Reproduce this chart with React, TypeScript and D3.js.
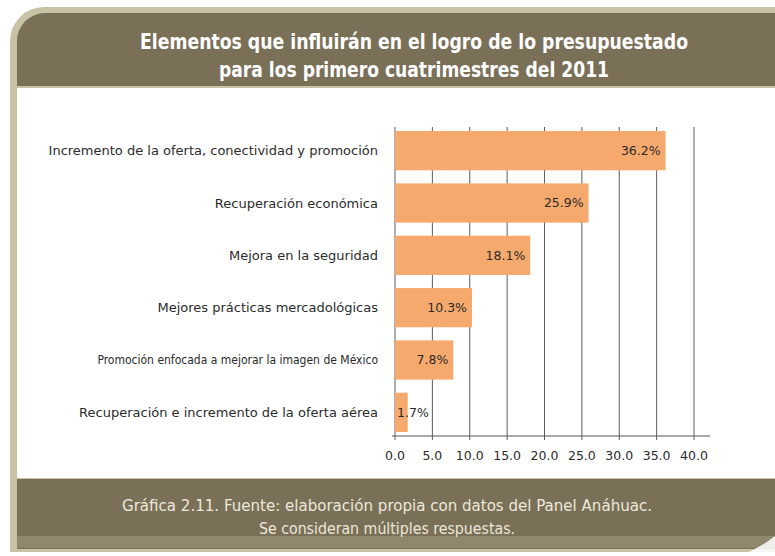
import React from "react";
import * as d3 from "d3";

const categories = [
  "Incremento de la oferta, conectividad y promoción",
  "Recuperación económica",
  "Mejora en la seguridad",
  "Mejores prácticas mercadológicas",
  "Promoción enfocada a mejorar la imagen de México",
  "Recuperación e incremento de la oferta aérea",
];
const values = [36.2, 25.9, 18.1, 10.3, 7.8, 1.7];
const tickValues = [0, 5, 10, 15, 20, 25, 30, 35, 40];
const titleLines = [
  "Elementos que influirán en el logro de lo presupuestado",
  "para los primero cuatrimestres del 2011",
];
const footerLines = [
  "Gráfica 2.11. Fuente: elaboración propia con datos del Panel Anáhuac.",
  "Se consideran múltiples respuestas.",
];

const W = 775;
const H = 556;

export default function App() {
  const x = d3.scaleLinear().domain([0, 40]).range([395, 694]);
  const y = d3
    .scaleBand<string>()
    .domain(categories)
    .range([124.5, 438.5])
    .paddingInner(0.25)
    .paddingOuter(0.125);
  const axisY = 436;
  const olive = "#7a7058";
  const frame = "#c8c2a6";

  const r = 34;
  const outerPath = `M10,${7 + r} A${r},${r} 0 0 1 ${10 + r},7 L${W},7 L${W},${H - 4} L10,${H - 4} Z`;
  const r2 = 28;
  const titlePath = `M17,${13 + r2} A${r2},${r2} 0 0 1 ${17 + r2},13 L${W},13 L${W},86 L17,86 Z`;

  return (
    <svg
      width={W}
      height={H}
      style={{ position: "absolute", left: 0, top: 0, display: "block" }}
    >
      <rect x={0} y={0} width={W} height={H} fill="#ffffff" />
      <path d={outerPath} fill={frame} />
      <path d={titlePath} fill={olive} />
      <rect x={17} y={88} width={W - 17} height={390} fill="#ffffff" />
      <rect x={17} y={479} width={W - 17} height={70} fill={olive} />
      <rect x={17} y={536} width={W - 17} height={12} fill="#8f876e" />
      <path
        d={`M740,556 Q760,548 775,536 L775,556 Z`}
        fill="#ffffff"
        opacity={0.85}
      />

      {titleLines.map((t, i) => (
        <text
          key={t}
          x={414}
          y={49 + i * 28}
          textAnchor="middle"
          fill="#ffffff"
          fontFamily="'Liberation Sans Narrow', 'DejaVu Sans Condensed', 'Liberation Sans', sans-serif"
          fontWeight="bold"
          fontSize={21}
          textLength={i === 0 ? 548 : 390}
          lengthAdjust="spacingAndGlyphs"
        >
          {t}
        </text>
      ))}

      {/* grid lines */}
      {tickValues.map((t) => (
        <line
          key={"g" + t}
          x1={x(t)}
          x2={x(t)}
          y1={127}
          y2={axisY + 4}
          stroke="#5e5e5e"
          strokeWidth={1}
        />
      ))}
      <line x1={392} x2={710} y1={axisY} y2={axisY} stroke="#555" strokeWidth={1} />

      {/* bars */}
      {categories.map((c, i) => {
        const y0 = y(c)!;
        const bw = x(values[i]) - x(0);
        const label = values[i].toFixed(1) + "%";
        const inside = bw > 40;
        return (
          <g key={c}>
            <rect
              x={x(0)}
              y={y0}
              width={bw}
              height={y.bandwidth()}
              fill="#f6a96c"
            />
            <text
              x={inside ? x(values[i]) - 5 : x(0) + 2}
              y={y0 + y.bandwidth() / 2}
              dy="0.35em"
              textAnchor={inside ? "end" : "start"}
              fontFamily="'DejaVu Sans', sans-serif"
              fontSize={12.5}
              fill="#2b2b2b"
            >
              {label}
            </text>
            <text
              x={378}
              y={y0 + y.bandwidth() / 2}
              dy="0.35em"
              textAnchor="end"
              fontFamily={i === 4 ? "'DejaVu Sans Condensed', 'DejaVu Sans', sans-serif" : "'DejaVu Sans', sans-serif"}
              fontSize={i === 4 ? 12 : 13}
              fill="#2b2b2b"
            >
              {c}
            </text>
          </g>
        );
      })}

      {/* tick labels */}
      {tickValues.map((t) => (
        <text
          key={"t" + t}
          x={x(t)}
          y={456}
          dy="0.35em"
          textAnchor="middle"
          fontFamily="'DejaVu Sans', sans-serif"
          fontSize={12.5}
          fill="#2b2b2b"
        >
          {t.toFixed(1)}
        </text>
      ))}

      {footerLines.map((t, i) => (
        <text
          key={t}
          x={387}
          y={511 + i * 23}
          textAnchor="middle"
          fill="#ece8da"
          fontFamily="'Liberation Sans Narrow', 'DejaVu Sans Condensed', sans-serif"
          fontSize={16}
          textLength={i === 0 ? 530 : 256}
          lengthAdjust="spacingAndGlyphs"
        >
          {t}
        </text>
      ))}
    </svg>
  );
}
